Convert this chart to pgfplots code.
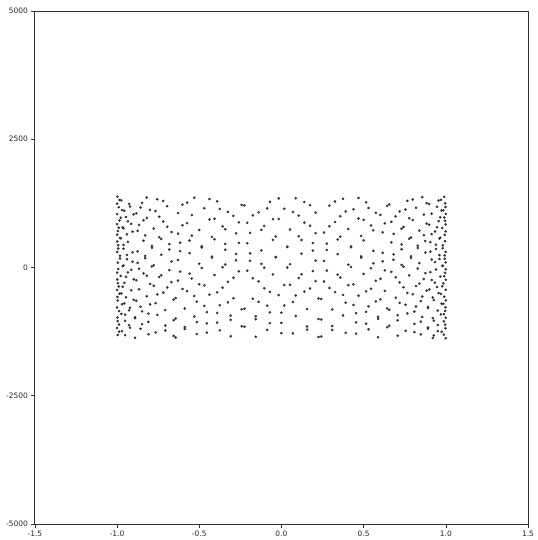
\documentclass[border=0pt]{standalone}
\usepackage{fontspec}
\setmainfont{DejaVu Sans}
\usepackage{pgfplots}
\pgfplotsset{compat=1.18}
\begin{document}
\begin{tikzpicture}
\begin{axis}[
  scale only axis, width=495pt, height=515pt,
  xmin=-1.5, xmax=1.5, ymin=-5000, ymax=5000,
  xtick={-1.5,-1,-0.5,0,0.5,1,1.5},
  xticklabels={-1.5,-1.0,-0.5,0.0,0.5,1.0,1.5},
  ytick={-5000,-2500,0,2500,5000},
  yticklabels={-5000,-2500,0,2500,5000},
  tick align=outside, xtick pos=bottom, ytick pos=left,
  major tick length=3.5pt,
  tick label style={font=\fontsize{7.5}{8}\selectfont, text=black!85},
  axis line style={black!80, line width=0.8pt},
  every tick/.style={black!80, line width=0.6pt},
  scaled ticks=false,
]
\addplot[only marks, mark=*, mark size=1.1pt, black!80] table[row sep=\\] {x y\\
1.000 -1380\\ -0.731 -150\\ 0.070 1080\\ 0.629 -455\\ -0.990 775\\ 0.819 -760\\ -0.208 470\\ -0.515 -1065\\ 0.961 165\\
-0.891 -1370\\ 0.342 -140\\ 0.391 1090\\ -0.914 -445\\ 0.946 785\\ -0.469 -750\\ -0.259 480\\ 0.848 -1055\\ -0.982 175\\
0.588 -1360\\ 0.122 -130\\ -0.766 1100\\ 0.999 -435\\ -0.695 795\\ 0.017 -740\\ 0.669 490\\ -0.996 -1045\\ 0.788 185\\
-0.156 -1350\\ -0.559 -120\\ 0.974 1110\\ -0.866 -425\\ 0.292 805\\ 0.438 -730\\ -0.934 500\\ 0.927 -1035\\ -0.423 195\\
-0.309 -1340\\ 0.875 -110\\ -0.970 1120\\ 0.545 -415\\ 0.174 815\\ -0.799 -720\\ 0.995 510\\ -0.656 -1025\\ -0.035 205\\
0.707 -1330\\ -0.999 -100\\ 0.755 1130\\ -0.105 -405\\ -0.602 825\\ 0.985 -710\\ -0.839 520\\ 0.242 -1015\\ 0.485 215\\
-0.951 -1320\\ 0.906 -90\\ -0.375 1140\\ -0.358 -395\\ 0.899 835\\ -0.956 -700\\ 0.500 530\\ 0.225 -1005\\ -0.829 225\\
0.988 -1310\\ -0.616 -80\\ -0.087 1150\\ 0.743 -385\\ -1.000 845\\ 0.719 -690\\ -0.052 540\\ -0.643 -995\\ 0.993 235\\
-0.809 -1300\\ 0.191 -70\\ 0.530 1160\\ -0.966 -375\\ 0.883 855\\ -0.326 -680\\ -0.407 550\\ 0.921 -985\\ -0.940 245\\
0.454 -1290\\ 0.276 -60\\ -0.857 1170\\ 0.978 -365\\ -0.574 865\\ -0.139 -670\\ 0.777 560\\ -0.998 -975\\ 0.682 255\\
0.000 -1280\\ -0.682 -50\\ 0.998 1180\\ -0.777 -355\\ 0.139 875\\ 0.574 -660\\ -0.978 570\\ 0.857 -965\\ -0.276 265\\
-0.454 -1270\\ 0.940 -40\\ -0.921 1190\\ 0.407 -345\\ 0.326 885\\ -0.883 -650\\ 0.966 580\\ -0.530 -955\\ -0.191 275\\
0.809 -1260\\ -0.993 -30\\ 0.643 1200\\ 0.052 -335\\ -0.719 895\\ 1.000 -640\\ -0.743 590\\ 0.087 -945\\ 0.616 285\\
-0.988 -1250\\ 0.829 -20\\ -0.225 1210\\ -0.500 -325\\ 0.956 905\\ -0.899 -630\\ 0.358 600\\ 0.375 -935\\ -0.906 295\\
0.951 -1240\\ -0.485 -10\\ -0.242 1220\\ 0.839 -315\\ -0.985 915\\ 0.602 -620\\ 0.105 610\\ -0.755 -925\\ 0.999 305\\
-0.707 -1230\\ 0.035 0\\ 0.656 1230\\ -0.995 -305\\ 0.799 925\\ -0.174 -610\\ -0.545 620\\ 0.970 -915\\ -0.875 315\\
0.309 -1220\\ 0.423 10\\ -0.927 1240\\ 0.934 -295\\ -0.438 935\\ -0.292 -600\\ 0.866 630\\ -0.974 -905\\ 0.559 325\\
0.156 -1210\\ -0.788 20\\ 0.996 1250\\ -0.669 -285\\ -0.017 945\\ 0.695 -590\\ -0.999 640\\ 0.766 -895\\ -0.122 335\\
-0.588 -1200\\ 0.982 30\\ -0.848 1260\\ 0.259 -275\\ 0.469 955\\ -0.946 -580\\ 0.914 650\\ -0.391 -885\\ -0.342 345\\
0.891 -1190\\ -0.961 40\\ 0.515 1270\\ 0.208 -265\\ -0.819 965\\ 0.990 -570\\ -0.629 660\\ -0.070 -875\\ 0.731 355\\
-1.000 -1180\\ 0.731 50\\ -0.070 1280\\ -0.629 -255\\ 0.990 975\\ -0.819 -560\\ 0.208 670\\ 0.515 -865\\ -0.961 365\\
0.891 -1170\\ -0.342 60\\ -0.391 1290\\ 0.914 -245\\ -0.946 985\\ 0.469 -550\\ 0.259 680\\ -0.848 -855\\ 0.982 375\\
-0.588 -1160\\ -0.122 70\\ 0.766 1300\\ -0.999 -235\\ 0.695 995\\ -0.017 -540\\ -0.669 690\\ 0.996 -845\\ -0.788 385\\
0.156 -1150\\ 0.559 80\\ -0.974 1310\\ 0.866 -225\\ -0.292 1005\\ -0.438 -530\\ 0.934 700\\ -0.927 -835\\ 0.423 395\\
0.309 -1140\\ -0.875 90\\ 0.970 1320\\ -0.545 -215\\ -0.174 1015\\ 0.799 -520\\ -0.995 710\\ 0.656 -825\\ 0.035 405\\
-0.707 -1130\\ 0.999 100\\ -0.755 1330\\ 0.105 -205\\ 0.602 1025\\ -0.985 -510\\ 0.839 720\\ -0.242 -815\\ -0.485 415\\
0.951 -1120\\ -0.906 110\\ 0.375 1340\\ 0.358 -195\\ -0.899 1035\\ 0.956 -500\\ -0.500 730\\ -0.225 -805\\ 0.829 425\\
-0.988 -1110\\ 0.616 120\\ 0.087 1350\\ -0.743 -185\\ 1.000 1045\\ -0.719 -490\\ 0.052 740\\ 0.643 -795\\ -0.993 435\\
0.809 -1100\\ -0.191 130\\ -0.530 1360\\ 0.966 -175\\ -0.883 1055\\ 0.326 -480\\ 0.407 750\\ -0.921 -785\\ 0.940 445\\
-0.454 -1090\\ -0.276 140\\ 0.857 1370\\ -0.978 -165\\ 0.574 1065\\ 0.139 -470\\ -0.777 760\\ 0.998 -775\\ -0.682 455\\
0.000 -1080\\ 0.682 150\\ -0.998 1380\\ 0.777 -155\\ -0.139 1075\\ -0.574 -460\\ 0.978 770\\ -0.857 -765\\ 0.276 465\\
0.454 -1070\\ -0.940 160\\ 0.921 -1375\\ -0.407 -145\\ -0.326 1085\\ 0.883 -450\\ -0.966 780\\ 0.530 -755\\ 0.191 475\\
-0.809 -1060\\ 0.993 170\\ -0.643 -1365\\ -0.052 -135\\ 0.719 1095\\ -1.000 -440\\ 0.743 790\\ -0.087 -745\\ -0.616 485\\
0.988 -1050\\ -0.829 180\\ 0.225 -1355\\ 0.500 -125\\ -0.956 1105\\ 0.899 -430\\ -0.358 800\\ -0.375 -735\\ 0.906 495\\
-0.951 -1040\\ 0.485 190\\ 0.242 -1345\\ -0.839 -115\\ 0.985 1115\\ -0.602 -420\\ -0.105 810\\ 0.755 -725\\ -0.999 505\\
0.707 -1030\\ -0.035 200\\ -0.656 -1335\\ 0.995 -105\\ -0.799 1125\\ 0.174 -410\\ 0.545 820\\ -0.970 -715\\ 0.875 515\\
-0.309 -1020\\ -0.423 210\\ 0.927 -1325\\ -0.934 -95\\ 0.438 1135\\ 0.292 -400\\ -0.866 830\\ 0.974 -705\\ -0.559 525\\
-0.156 -1010\\ 0.788 220\\ -0.996 -1315\\ 0.669 -85\\ 0.017 1145\\ -0.695 -390\\ 0.999 840\\ -0.766 -695\\ 0.122 535\\
0.588 -1000\\ -0.982 230\\ 0.848 -1305\\ -0.259 -75\\ -0.469 1155\\ 0.946 -380\\ -0.914 850\\ 0.391 -685\\ 0.342 545\\
-0.891 -990\\ 0.961 240\\ -0.515 -1295\\ -0.208 -65\\ 0.819 1165\\ -0.990 -370\\ 0.629 860\\ 0.070 -675\\ -0.731 555\\
1.000 -980\\ -0.731 250\\ 0.070 -1285\\ 0.629 -55\\ -0.990 1175\\ 0.819 -360\\ -0.208 870\\ -0.515 -665\\ 0.961 565\\
-0.891 -970\\ 0.342 260\\ 0.391 -1275\\ -0.914 -45\\ 0.946 1185\\ -0.469 -350\\ -0.259 880\\ 0.848 -655\\ -0.982 575\\
0.588 -960\\ 0.122 270\\ -0.766 -1265\\ 0.999 -35\\ -0.695 1195\\ 0.017 -340\\ 0.669 890\\ -0.996 -645\\ 0.788 585\\
-0.156 -950\\ -0.559 280\\ 0.974 -1255\\ -0.866 -25\\ 0.292 1205\\ 0.438 -330\\ -0.934 900\\ 0.927 -635\\ -0.423 595\\
-0.309 -940\\ 0.875 290\\ -0.970 -1245\\ 0.545 -15\\ 0.174 1215\\ -0.799 -320\\ 0.995 910\\ -0.656 -625\\ -0.035 605\\
0.707 -930\\ -0.999 300\\ 0.755 -1235\\ -0.105 -5\\ -0.602 1225\\ 0.985 -310\\ -0.839 920\\ 0.242 -615\\ 0.485 615\\
-0.951 -920\\ 0.906 310\\ -0.375 -1225\\ -0.358 5\\ 0.899 1235\\ -0.956 -300\\ 0.500 930\\ 0.225 -605\\ -0.829 625\\
0.988 -910\\ -0.616 320\\ -0.087 -1215\\ 0.743 15\\ -1.000 1245\\ 0.719 -290\\ -0.052 940\\ -0.643 -595\\ 0.993 635\\
-0.809 -900\\ 0.191 330\\ 0.530 -1205\\ -0.966 25\\ 0.883 1255\\ -0.326 -280\\ -0.407 950\\ 0.921 -585\\ -0.940 645\\
0.454 -890\\ 0.276 340\\ -0.857 -1195\\ 0.978 35\\ -0.574 1265\\ -0.139 -270\\ 0.777 960\\ -0.998 -575\\ 0.682 655\\
0.000 -880\\ -0.682 350\\ 0.998 -1185\\ -0.777 45\\ 0.139 1275\\ 0.574 -260\\ -0.978 970\\ 0.857 -565\\ -0.276 665\\
-0.454 -870\\ 0.940 360\\ -0.921 -1175\\ 0.407 55\\ 0.326 1285\\ -0.883 -250\\ 0.966 980\\ -0.530 -555\\ -0.191 675\\
0.809 -860\\ -0.993 370\\ 0.643 -1165\\ 0.052 65\\ -0.719 1295\\ 1.000 -240\\ -0.743 990\\ 0.087 -545\\ 0.616 685\\
-0.988 -850\\ 0.829 380\\ -0.225 -1155\\ -0.500 75\\ 0.956 1305\\ -0.899 -230\\ 0.358 1000\\ 0.375 -535\\ -0.906 695\\
0.951 -840\\ -0.485 390\\ -0.242 -1145\\ 0.839 85\\ -0.985 1315\\ 0.602 -220\\ 0.105 1010\\ -0.755 -525\\ 0.999 705\\
-0.707 -830\\ 0.035 400\\ 0.656 -1135\\ -0.995 95\\ 0.799 1325\\ -0.174 -210\\ -0.545 1020\\ 0.970 -515\\ -0.875 715\\
0.309 -820\\ 0.423 410\\ -0.927 -1125\\ 0.934 105\\ -0.438 1335\\ -0.292 -200\\ 0.866 1030\\ -0.974 -505\\ 0.559 725\\
0.156 -810\\ -0.788 420\\ 0.996 -1115\\ -0.669 115\\ -0.017 1345\\ 0.695 -190\\ -0.999 1040\\ 0.766 -495\\ -0.122 735\\
-0.588 -800\\ 0.982 430\\ -0.848 -1105\\ 0.259 125\\ 0.469 1355\\ -0.946 -180\\ 0.914 1050\\ -0.391 -485\\ -0.342 745\\
0.891 -790\\ -0.961 440\\ 0.515 -1095\\ 0.208 135\\ -0.819 1365\\ 0.990 -170\\ -0.629 1060\\ -0.070 -475\\ 0.731 755\\
-1.000 -780\\ 0.731 450\\ -0.070 -1085\\ -0.629 145\\ 0.990 1375\\ -0.819 -160\\ 0.208 1070\\ 0.515 -465\\ -0.961 765\\
0.891 -770\\ -0.342 460\\ -0.391 -1075\\ 0.914 155\\
};
\end{axis}
\path ([shift={(-35pt,-14pt)}]current axis.south west) rectangle ([shift={(5pt,11pt)}]current axis.north east);
\end{tikzpicture}
\end{document}
